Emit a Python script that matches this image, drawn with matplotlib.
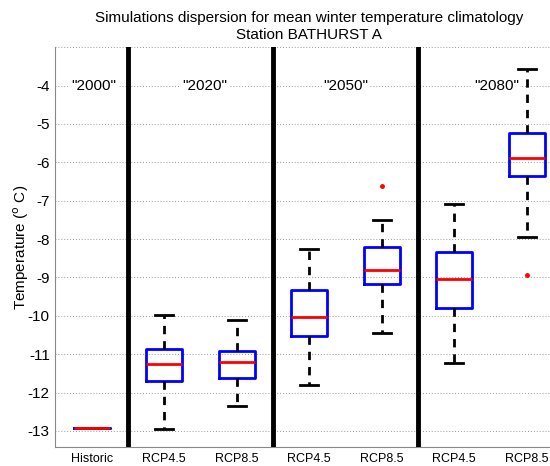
import matplotlib.pyplot as plt

plt.rcParams['font.family'] = ['Liberation Sans', 'DejaVu Sans']

# boxplot statistics
labels = ['Historic', 'RCP4.5', 'RCP8.5', 'RCP4.5', 'RCP8.5', 'RCP4.5', 'RCP8.5']
medians = [-12.93, -11.27, -11.20, -10.04, -8.81, -9.03, -5.88]
q1 = [-12.93, -11.71, -11.63, -10.53, -9.18, -9.79, -6.35]
q3 = [-12.93, -10.87, -10.93, -9.34, -8.22, -8.35, -5.23]
whislo = [-12.93, -12.94, -12.35, -11.80, -10.46, -11.23, -7.96]
whishi = [-12.93, -9.97, -10.12, -8.25, -7.51, -7.10, -3.57]
fliers = [[], [], [], [], [-6.62], [], [-8.93]]

periods = ['"2000"', '"2020"', '"2050"', '"2080"']
period_x = [1.03, 2.56, 4.51, 6.58]
separators = [1.5, 3.5, 5.5]

stats = []
for i in range(len(labels)):
    stats.append(dict(med=medians[i], q1=q1[i], q3=q3[i],
                      whislo=whislo[i], whishi=whishi[i], fliers=fliers[i]))

fig = plt.figure(figsize=(5.5, 4.66), dpi=100)
ax = fig.add_axes([0.1007, 0.0408, 0.923, 0.858])

pos = list(range(1, len(labels) + 1))
ax.bxp(stats, positions=pos, widths=0.5, showfliers=True,
       boxprops=dict(color='blue', linewidth=2),
       medianprops=dict(color='red', linewidth=2),
       whiskerprops=dict(color='black', linewidth=2, linestyle=(0, (3, 2.5))),
       capprops=dict(color='black', linewidth=2),
       flierprops=dict(marker='o', markersize=2.5, markerfacecolor='red',
                       markeredgecolor='red'),
       capwidths=0.25, manage_ticks=False)

for s in separators:
    ax.axvline(s, color='black', linewidth=3.5, zorder=5)

for x, t in zip(period_x, periods):
    ax.text(x, -4, t, ha='center', va='center', fontsize=11,
            bbox=dict(facecolor='white', edgecolor='none', pad=1))

ax.set_xlim(0.5, 7.5)
ax.set_ylim(-13.42, -3.0)
ax.set_xticks(pos)
ax.set_xticklabels(labels, fontsize=9)
ax.set_yticks(range(-13, -3))
ax.set_yticklabels([str(v) for v in range(-13, -3)], fontsize=11)
ax.yaxis.grid(True, linestyle=(0, (1, 2)), color='#999999', linewidth=0.7)
ax.axhline(-3.0, linestyle=(0, (1, 2)), color='#999999', linewidth=0.7)
ax.set_axisbelow(True)
ax.tick_params(length=0, pad=4)

for side in ['top', 'right']:
    ax.spines[side].set_visible(False)
for side in ['left', 'bottom']:
    ax.spines[side].set_color('#888888')

ax.set_ylabel('Temperature ($^{\\rm o}$ C)', fontsize=11, labelpad=-2)
ax.set_title('Simulations dispersion for mean winter temperature climatology\nStation BATHURST A',
             fontsize=11, x=0.5, pad=6, linespacing=1.25)

fig.savefig('out.png', dpi=100)
